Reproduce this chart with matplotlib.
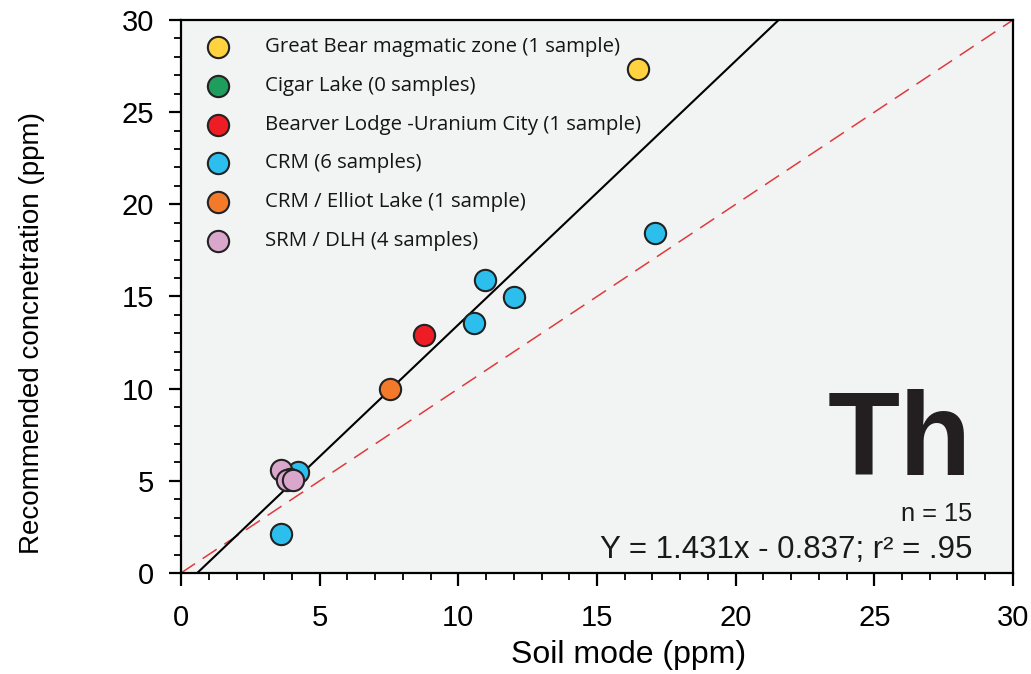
import matplotlib
matplotlib.use("Agg")
import matplotlib.pyplot as plt
import numpy as np
from matplotlib.ticker import MultipleLocator

# Sample groups: labels, colours and (soil mode, recommended) pairs
groups = [
    "Great Bear magmatic zone (1 sample)",
    "Cigar Lake (0 samples)",
    "Bearver Lodge -Uranium City (1 sample)",
    "CRM (6 samples)",
    "CRM / Elliot Lake (1 sample)",
    "SRM / DLH (4 samples)",
]
colors = ["#FFD23F", "#1F9D5C", "#EE1C25", "#2CBFEE", "#F37A2B", "#D9A7CB"]

great_bear_x = [16.48]
great_bear_y = [27.35]
cigar_x = []
cigar_y = []
beaverlodge_x = [8.76]
beaverlodge_y = [12.91]
crm_x = [17.09, 10.96, 12.01, 10.57, 3.60, 4.22]
crm_y = [18.45, 15.90, 14.98, 13.56, 2.12, 5.48]
elliot_x = [7.54]
elliot_y = [9.98]
srm_x = [3.61, 3.93, 3.82, 4.04]
srm_y = [5.59, 5.10, 5.05, 5.05]

xs = [great_bear_x, cigar_x, beaverlodge_x, crm_x, elliot_x, srm_x]
ys = [great_bear_y, cigar_y, beaverlodge_y, crm_y, elliot_y, srm_y]

slope, intercept = 1.431, -0.837
n_samples = 15
r2 = ".95"

fig = plt.figure(figsize=(10.31, 6.74), dpi=100)
ax = fig.add_axes([0.1756, 0.1499, 0.8069, 0.8204])
ax.set_facecolor("#F2F4F3")

ax.set_xlim(0, 30)
ax.set_ylim(0, 30)

# 1:1 reference line and regression line
ref = np.array([0, 30])
ax.plot(ref, ref, color="#E0393E", lw=1.1, dashes=(11, 6), zorder=2)
fit_y = np.array([0, 30])
fit_x = (fit_y - intercept) / slope
ax.plot(fit_x, fit_y, color="black", lw=1.5, zorder=3)

marker_size = 235
for gx, gy, c in zip(xs, ys, colors):
    if gx:
        ax.scatter(gx, gy, s=marker_size, c=c, edgecolors="#222222",
                   linewidths=1.5, zorder=4)

# Legend drawn in axes coordinates
row0 = 1 - 27 / 553
step = 38.8 / 553
for i, (lab, c) in enumerate(zip(groups, colors)):
    yy = row0 - i * step
    ax.scatter([37 / 832], [yy], s=marker_size, c=c, edgecolors="#222222",
               linewidths=1.5, transform=ax.transAxes, clip_on=False, zorder=5)
    ax.text(84 / 832, yy, lab, transform=ax.transAxes, va="center", ha="left",
            fontsize=14.7, family="Open Sans", color="#151515")

ax.text(0.951, 0.177, "Th", transform=ax.transAxes, ha="right", va="baseline",
        fontsize=85, fontweight="bold", family="Liberation Sans", color="#231F20")
ax.text(0.9507, 0.094, f"n = {n_samples}", transform=ax.transAxes, ha="right",
        va="baseline", fontsize=18.3, family="Liberation Sans", color="#1a1a1a")
ax.text(0.9507, 0.027, f"Y = {slope:.3f}x - {abs(intercept):.3f}; r\u00b2 = {r2}",
        transform=ax.transAxes, ha="right", va="baseline", fontsize=22.5,
        family="Liberation Sans", color="#1a1a1a")

ax.xaxis.set_major_locator(MultipleLocator(5))
ax.xaxis.set_minor_locator(MultipleLocator(1))
ax.yaxis.set_major_locator(MultipleLocator(5))
ax.yaxis.set_minor_locator(MultipleLocator(1))
ax.tick_params(which="major", direction="out", length=9, width=1.6, labelsize=21)
ax.tick_params(which="minor", direction="out", length=4.7, width=1.3)
ax.tick_params(axis="x", which="major", pad=13.5)
ax.tick_params(axis="y", which="major", pad=10.5)
for lab in ax.get_xticklabels() + ax.get_yticklabels():
    lab.set_family("Liberation Sans")
for sp in ax.spines.values():
    sp.set_linewidth(1.6)

ax.set_xlabel("Soil mode (ppm)", fontsize=23, family="Liberation Sans")
ax.xaxis.set_label_coords(0.538, -0.122)
ax.set_ylabel("Recommended concnetration (ppm)", fontsize=20,
              family="Liberation Sans")
ax.yaxis.set_label_coords(-0.163, 0.434)

fig.savefig("out.png", dpi=100)
